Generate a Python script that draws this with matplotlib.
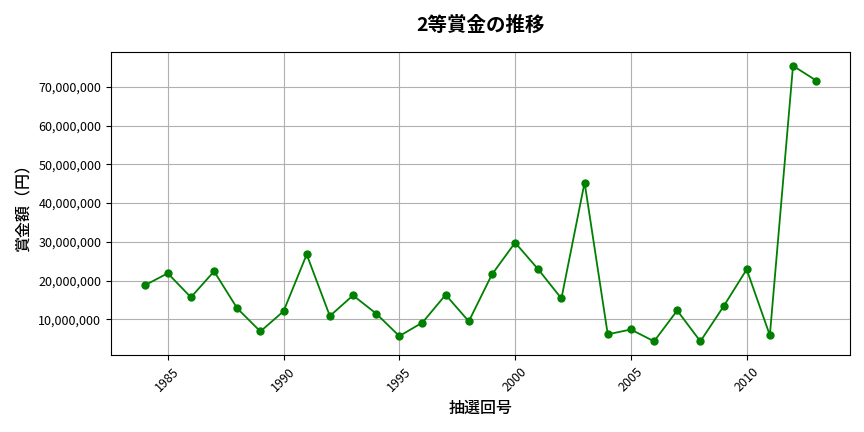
import matplotlib
matplotlib.use("Agg")
import matplotlib.pyplot as plt
from matplotlib.ticker import FuncFormatter

plt.rcParams['font.family'] = ['Noto Sans CJK JP', 'DejaVu Sans']

# 抽選年と2等賞金（円）
years = list(range(1984, 2014))
prizes = [
    18770000, 21900000, 15700000, 22400000, 12850000, 6900000, 12100000,
    26750000, 10870000, 16200000, 11500000, 5700000, 9200000, 16350000,
    9500000, 21600000, 29800000, 22900000, 15400000, 45300000, 6150000,
    7400000, 4350000, 12300000, 4350000, 13350000, 22900000, 5900000,
    75400000, 71600000,
]

fig = plt.figure(figsize=(8.64, 4.32), dpi=100)
ax = fig.add_axes([0.1285, 0.178, 0.855, 0.7016])

ax.plot(years, prizes, marker='o', color='green', markersize=5, linewidth=1.3)

ax.set_title('2等賞金の推移', fontsize=14, fontweight='bold', pad=15)
ax.set_xlabel('抽選回号', fontsize=11.5, fontweight='medium', labelpad=4)
ax.set_ylabel('賞金額（円）', fontsize=11.5, fontweight='medium', labelpad=4)

ax.yaxis.set_major_formatter(FuncFormatter(lambda v, p: f'{int(v):,}'))
ax.tick_params(axis='x', labelrotation=45, labelsize=9)
ax.tick_params(axis='y', labelsize=9)
ax.grid(True, color='#b0b0b0', linewidth=0.8)

fig.savefig('out.png', dpi=100)
